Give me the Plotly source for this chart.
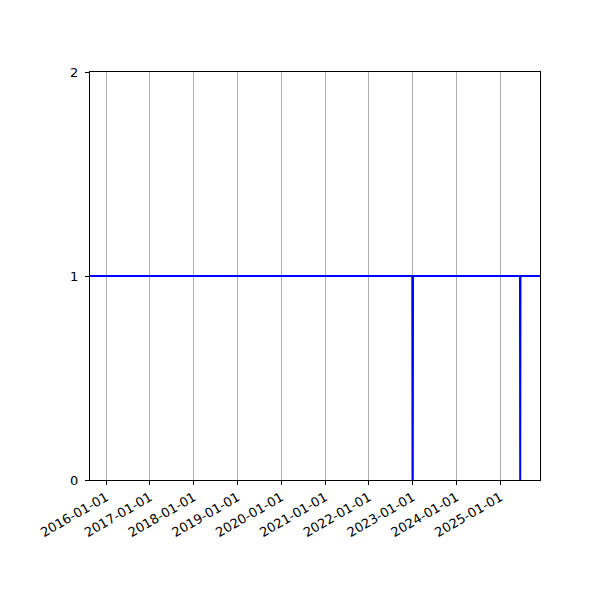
import plotly.graph_objects as go

# sampled status series (1 = up, 0 = down)
dates = [
    "2015-08-20", "2022-12-29", "2022-12-31", "2023-01-02", "2023-01-04",
    "2025-06-14", "2025-06-16", "2025-06-18", "2025-11-28",
]
values = [1, 1, 0, 0, 1, 1, 0, 1, 1]

tick_dates = [f"{y}-01-01" for y in range(2016, 2026)]

fig = go.Figure()
fig.add_trace(go.Scatter(
    x=dates, y=values, mode="lines",
    line=dict(color="#0000ff", width=2),
    showlegend=False,
))

# page body adds an 8px offset, margins compensate for it
fig.update_layout(
    width=600, height=600,
    margin=dict(l=82, r=68, t=64, b=128),
    plot_bgcolor="white", paper_bgcolor="white",
    font=dict(family="DejaVu Sans", size=13, color="black"),
)
fig.update_xaxes(
    type="date",
    range=[dates[0], dates[-1]],
    tickvals=tick_dates, ticktext=tick_dates,
    tickangle=-30,
    showgrid=True, gridcolor="#b0b0b0", gridwidth=1,
    showline=True, linecolor="black", linewidth=1, mirror=True,
    ticks="outside", ticklen=4, tickcolor="black",
    zeroline=False,
)
fig.update_yaxes(
    range=[0, 2], tickvals=[0, 1, 2],
    showgrid=False,
    showline=True, linecolor="black", linewidth=1, mirror=True,
    ticks="outside", ticklen=4, tickcolor="black",
    ticklabelstandoff=4,
    zeroline=False,
)

fig.write_html("out.html")
